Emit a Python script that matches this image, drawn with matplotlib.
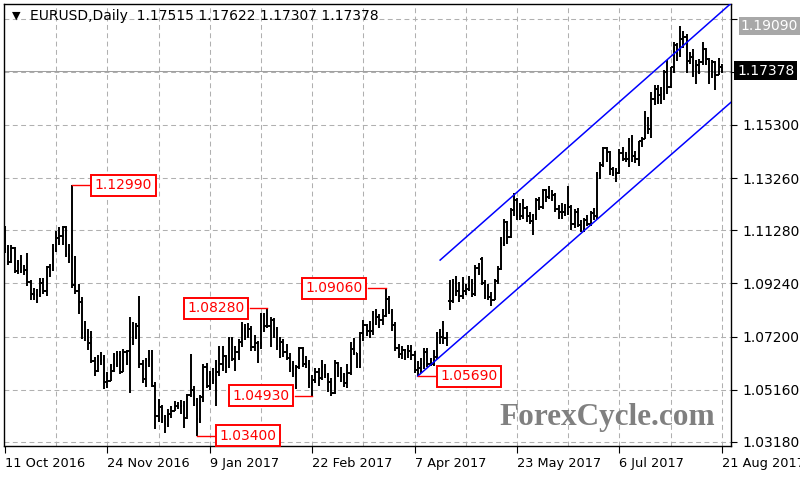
"""
EURUSD daily bar chart (MT4 style) with a rising channel and swing labels.
"""

import matplotlib
matplotlib.use("Agg")
import matplotlib.pyplot as plt
import pandas as pd
from matplotlib.collections import LineCollection

plt.rcParams['font.family'] = ['DejaVu Sans']
plt.rcParams['lines.scale_dashes'] = False

first_day = '2016-10-11'
last_day = '2017-08-21'

opens = [
    1.1141, 1.1055, 1.1005, 1.1058, 1.0972, 1.0999, 1.0972, 1.0974, 1.0928, 1.0882,
    1.0880, 1.0881, 1.0924, 1.0896, 1.0985, 1.0979, 1.1057, 1.1097, 1.1104, 1.1139,
    1.1036, 1.1027, 1.0919, 1.0896, 1.0852, 1.0733, 1.0719, 1.0697, 1.0627, 1.0588,
    1.0628, 1.0632, 1.0548, 1.0552, 1.0589, 1.0617, 1.0650, 1.0585, 1.0662, 1.0664,
    1.0737, 1.0718, 1.0759, 1.0616, 1.0557, 1.0632, 1.0633, 1.0532, 1.0415, 1.0449,
    1.0398, 1.0387, 1.0425, 1.0437, 1.0454, 1.0455, 1.0456, 1.0410, 1.0495, 1.0517,
    1.0460, 1.0405, 1.0488, 1.0604, 1.0532, 1.0576, 1.0555, 1.0584, 1.0614, 1.0646,
    1.0604, 1.0710, 1.0633, 1.0660, 1.0698, 1.0749, 1.0723, 1.0749, 1.0680, 1.0694,
    1.0697, 1.0800, 1.0762, 1.0761, 1.0784, 1.0750, 1.0685, 1.0700, 1.0663, 1.0640,
    1.0600, 1.0576, 1.0604, 1.0678, 1.0617, 1.0615, 1.0541, 1.0555, 1.0585, 1.0562,
    1.0604, 1.0574, 1.0545, 1.0505, 1.0620, 1.0580, 1.0566, 1.0543, 1.0581, 1.0672,
    1.0656, 1.0604, 1.0733, 1.0766, 1.0740, 1.0741, 1.0808, 1.0797, 1.0782, 1.0798,
    1.0865, 1.0815, 1.0765, 1.0677, 1.0652, 1.0667, 1.0669, 1.0664, 1.0648, 1.0592,
    1.0600, 1.0614, 1.0662, 1.0615, 1.0617, 1.0643, 1.0733, 1.0718, 1.0714, 1.0855,
    1.0856, 1.0931, 1.0893, 1.0874, 1.0894, 1.0901, 1.0929, 1.0885, 1.0984, 1.1016,
    1.0925, 1.0875, 1.0873, 1.0862, 1.0933, 1.0980, 1.1077, 1.1159, 1.1101, 1.1206,
    1.1243, 1.1183, 1.1182, 1.1212, 1.1182, 1.1164, 1.1185, 1.1242, 1.1216, 1.1280,
    1.1254, 1.1279, 1.1262, 1.1210, 1.1196, 1.1197, 1.1211, 1.1217, 1.1151, 1.1198,
    1.1149, 1.1131, 1.1166, 1.1151, 1.1194, 1.1181, 1.1337, 1.1377, 1.1442, 1.1425,
    1.1362, 1.1348, 1.1347, 1.1423, 1.1400, 1.1398, 1.1467, 1.1412, 1.1398, 1.1469,
    1.1478, 1.1558, 1.1513, 1.1630, 1.1668, 1.1643, 1.1649, 1.1734, 1.1677, 1.1750,
    1.1836, 1.1801, 1.1859, 1.1866, 1.1773, 1.1792, 1.1754, 1.1758, 1.1772, 1.1821,
    1.1781, 1.1735, 1.1770, 1.1723, 1.17515,
]
highs = [
    1.1145, 1.1070, 1.1070, 1.1062, 1.1012, 1.1033, 1.0996, 1.1040, 1.0938, 1.0905,
    1.0903, 1.0945, 1.0944, 1.0990, 1.0997, 1.1075, 1.1124, 1.1140, 1.1143, 1.1145,
    1.1073, 1.1299, 1.1029, 1.0921, 1.0873, 1.0780, 1.0750, 1.0740, 1.0644, 1.0650,
    1.0660, 1.0648, 1.0585, 1.0616, 1.0656, 1.0665, 1.0664, 1.0671, 1.0670, 1.0796,
    1.0775, 1.0773, 1.0874, 1.0630, 1.0640, 1.0669, 1.0668, 1.0547, 1.0480, 1.0459,
    1.0420, 1.0444, 1.0456, 1.0472, 1.0470, 1.0478, 1.0475, 1.0500, 1.0652, 1.0530,
    1.0485, 1.0495, 1.0615, 1.0620, 1.0590, 1.0601, 1.0630, 1.0685, 1.0685, 1.0650,
    1.0718, 1.0720, 1.0683, 1.0710, 1.0775, 1.0770, 1.0773, 1.0760, 1.0725, 1.0705,
    1.0810, 1.0811, 1.0828, 1.0796, 1.0790, 1.0756, 1.0720, 1.0710, 1.0690, 1.0656,
    1.0625, 1.0610, 1.0679, 1.0680, 1.0645, 1.0631, 1.0575, 1.0600, 1.0600, 1.0629,
    1.0615, 1.0579, 1.0560, 1.0630, 1.0623, 1.0604, 1.0582, 1.0614, 1.0700, 1.0714,
    1.0658, 1.0736, 1.0783, 1.0768, 1.0778, 1.0818, 1.0826, 1.0806, 1.0825, 1.0906,
    1.0875, 1.0825, 1.0775, 1.0692, 1.0685, 1.0673, 1.0688, 1.0687, 1.0665, 1.0625,
    1.0640, 1.0678, 1.0676, 1.0640, 1.0668, 1.0736, 1.0750, 1.0778, 1.0739, 1.0937,
    1.0940, 1.0951, 1.0930, 1.0950, 1.0920, 1.0951, 1.0940, 1.0993, 1.1000, 1.1023,
    1.0935, 1.0923, 1.0890, 1.0940, 1.0990, 1.1100, 1.1171, 1.1163, 1.1212, 1.1268,
    1.1250, 1.1230, 1.1248, 1.1219, 1.1198, 1.1190, 1.1250, 1.1255, 1.1285, 1.1285,
    1.1296, 1.1282, 1.1270, 1.1222, 1.1230, 1.1228, 1.1296, 1.1222, 1.1210, 1.1212,
    1.1166, 1.1173, 1.1186, 1.1202, 1.1214, 1.1349, 1.1387, 1.1445, 1.1446, 1.1430,
    1.1370, 1.1366, 1.1437, 1.1445, 1.1425, 1.1479, 1.1490, 1.1430, 1.1470, 1.1485,
    1.1583, 1.1562, 1.1658, 1.1683, 1.1684, 1.1675, 1.1740, 1.1777, 1.1753, 1.1846,
    1.1845, 1.1909, 1.1891, 1.1877, 1.1810, 1.1822, 1.1780, 1.1781, 1.1846, 1.1823,
    1.1787, 1.1780, 1.1776, 1.1788, 1.17622,
]
lows = [
    1.1040, 1.0994, 1.1000, 1.0965, 1.0960, 1.0965, 1.0955, 1.0915, 1.0860, 1.0860,
    1.0850, 1.0870, 1.0884, 1.0877, 1.0950, 1.0970, 1.1043, 1.1070, 1.1070, 1.1025,
    1.1002, 1.0906, 1.0882, 1.0805, 1.0710, 1.0705, 1.0667, 1.0621, 1.0568, 1.0586,
    1.0610, 1.0518, 1.0524, 1.0550, 1.0585, 1.0605, 1.0576, 1.0583, 1.0612, 1.0505,
    1.0688, 1.0710, 1.0601, 1.0544, 1.0527, 1.0602, 1.0526, 1.0366, 1.0395, 1.0388,
    1.0352, 1.0374, 1.0410, 1.0435, 1.0445, 1.0423, 1.0370, 1.0405, 1.0490, 1.0455,
    1.0340, 1.0388, 1.0470, 1.0523, 1.0515, 1.0540, 1.0453, 1.0569, 1.0590, 1.0580,
    1.0600, 1.0627, 1.0587, 1.0630, 1.0680, 1.0707, 1.0715, 1.0665, 1.0664, 1.0618,
    1.0673, 1.0738, 1.0752, 1.0680, 1.0713, 1.0670, 1.0640, 1.0642, 1.0630, 1.0585,
    1.0565, 1.0521, 1.0597, 1.0603, 1.0600, 1.0525, 1.0493, 1.0542, 1.0530, 1.0555,
    1.0560, 1.0510, 1.0494, 1.0500, 1.0567, 1.0545, 1.0526, 1.0524, 1.0575, 1.0650,
    1.0599, 1.0600, 1.0702, 1.0721, 1.0716, 1.0726, 1.0765, 1.0752, 1.0765, 1.0797,
    1.0806, 1.0740, 1.0665, 1.0640, 1.0635, 1.0630, 1.0640, 1.0630, 1.0581, 1.0569,
    1.0580, 1.0596, 1.0604, 1.0607, 1.0606, 1.0635, 1.0690, 1.0693, 1.0684, 1.0821,
    1.0850, 1.0874, 1.0851, 1.0865, 1.0880, 1.0893, 1.0872, 1.0875, 1.0955, 1.0916,
    1.0865, 1.0862, 1.0838, 1.0860, 1.0920, 1.0975, 1.1068, 1.1075, 1.1097, 1.1181,
    1.1165, 1.1165, 1.1170, 1.1160, 1.1150, 1.1109, 1.1165, 1.1205, 1.1209, 1.1235,
    1.1245, 1.1238, 1.1196, 1.1172, 1.1170, 1.1180, 1.1184, 1.1130, 1.1134, 1.1140,
    1.1120, 1.1119, 1.1142, 1.1145, 1.1165, 1.1170, 1.1323, 1.1368, 1.1390, 1.1340,
    1.1335, 1.1312, 1.1341, 1.1394, 1.1390, 1.1370, 1.1390, 1.1385, 1.1372, 1.1445,
    1.1475, 1.1495, 1.1479, 1.1605, 1.1612, 1.1612, 1.1625, 1.1650, 1.1670, 1.1730,
    1.1773, 1.1790, 1.1824, 1.1729, 1.1763, 1.1712, 1.1688, 1.1724, 1.1761, 1.1760,
    1.1688, 1.1710, 1.1662, 1.1720, 1.17307,
]
closes = [
    1.1055, 1.1005, 1.1058, 1.0972, 1.0999, 1.0972, 1.0974, 1.0928, 1.0882, 1.0880,
    1.0881, 1.0924, 1.0896, 1.0985, 1.0979, 1.1057, 1.1097, 1.1104, 1.1139, 1.1036,
    1.1027, 1.0919, 1.0896, 1.0852, 1.0733, 1.0719, 1.0697, 1.0627, 1.0588, 1.0628,
    1.0632, 1.0548, 1.0552, 1.0589, 1.0617, 1.0650, 1.0585, 1.0662, 1.0664, 1.0737,
    1.0718, 1.0759, 1.0616, 1.0557, 1.0632, 1.0633, 1.0532, 1.0415, 1.0449, 1.0398,
    1.0387, 1.0425, 1.0437, 1.0454, 1.0455, 1.0456, 1.0410, 1.0495, 1.0517, 1.0460,
    1.0405, 1.0488, 1.0604, 1.0532, 1.0576, 1.0555, 1.0584, 1.0614, 1.0646, 1.0604,
    1.0710, 1.0633, 1.0660, 1.0698, 1.0749, 1.0723, 1.0749, 1.0680, 1.0694, 1.0697,
    1.0800, 1.0762, 1.0761, 1.0784, 1.0750, 1.0685, 1.0700, 1.0663, 1.0640, 1.0600,
    1.0576, 1.0604, 1.0678, 1.0617, 1.0615, 1.0541, 1.0555, 1.0585, 1.0562, 1.0604,
    1.0574, 1.0545, 1.0505, 1.0620, 1.0580, 1.0566, 1.0543, 1.0581, 1.0672, 1.0656,
    1.0604, 1.0733, 1.0766, 1.0740, 1.0741, 1.0808, 1.0797, 1.0782, 1.0798, 1.0865,
    1.0815, 1.0765, 1.0677, 1.0652, 1.0667, 1.0669, 1.0664, 1.0648, 1.0592, 1.0600,
    1.0614, 1.0662, 1.0615, 1.0617, 1.0643, 1.0733, 1.0718, 1.0714, 1.0726, 1.0856,
    1.0931, 1.0893, 1.0874, 1.0894, 1.0901, 1.0929, 1.0885, 1.0984, 1.0998, 1.0925,
    1.0875, 1.0873, 1.0862, 1.0933, 1.0980, 1.1077, 1.1159, 1.1101, 1.1206, 1.1243,
    1.1183, 1.1182, 1.1212, 1.1182, 1.1164, 1.1185, 1.1242, 1.1216, 1.1280, 1.1254,
    1.1279, 1.1262, 1.1210, 1.1196, 1.1197, 1.1211, 1.1217, 1.1151, 1.1198, 1.1149,
    1.1131, 1.1166, 1.1151, 1.1194, 1.1181, 1.1337, 1.1377, 1.1442, 1.1425, 1.1362,
    1.1348, 1.1347, 1.1423, 1.1400, 1.1398, 1.1467, 1.1412, 1.1398, 1.1469, 1.1478,
    1.1558, 1.1513, 1.1630, 1.1668, 1.1643, 1.1649, 1.1734, 1.1677, 1.1750, 1.1836,
    1.1801, 1.1859, 1.1866, 1.1773, 1.1792, 1.1754, 1.1758, 1.1772, 1.1821, 1.1781,
    1.1735, 1.1770, 1.1723, 1.1761, 1.17378,
]

label_dates = ['2016-10-11', '2016-11-24', '2017-01-09', '2017-02-22',
               '2017-04-07', '2017-05-23', '2017-07-06', '2017-08-21']
label_texts = ['11 Oct 2016', '24 Nov 2016', '9 Jan 2017', '22 Feb 2017',
               '7 Apr 2017', '23 May 2017', '6 Jul 2017', '21 Aug 2017']
price_ticks = [1.03180, 1.05160, 1.07200, 1.09240, 1.11280,
               1.13260, 1.15300, 1.17340, 1.19340]
price_tick_labels = ['1.03180', '1.05160', '1.07200', '1.09240', '1.11280',
                     '1.13260', '1.15300', '', '']  # top two sit under the price boxes

# swing highs / lows marked on the chart
swing_dates = ['2016-11-09', '2017-01-03', '2017-02-02',
               '2017-02-22', '2017-03-27', '2017-04-10']
swing_prices = [1.12990, 1.03400, 1.08280, 1.04930, 1.09060, 1.05690]
swing_sides = ['right', 'right', 'left', 'left', 'left', 'right']

# rising channel, two anchor points per line
lower_dates = ['2017-04-10', '2017-08-21']
lower_prices = [1.0569, 1.1586]
upper_dates = ['2017-04-19', '2017-08-21']
upper_prices = [1.1013, 1.1964]

period_high = 1.19090
last_price = 1.17378

# 1. Figure, sized like the terminal screenshot
fig = plt.figure(figsize=(8, 4.8), dpi=100)
ax = fig.add_axes([4 / 800, 34 / 480, 727 / 800, 442 / 480])

dates = pd.bdate_range(first_day, last_day)
pos = {d.strftime('%Y-%m-%d'): i for i, d in enumerate(dates)}
n = len(dates)

ax.set_xlim(-0.3, 226.9)
ax.set_ylim(1.03015, 1.19930)

# 2. Grid: dashed lines, vertical every 16 bars, labels every 32
grid_kw = dict(color='#b0b0b0', linewidth=0.75, dashes=(3.5, 2.5), zorder=0)
for p in price_ticks:
    ax.axhline(p, **grid_kw)
for i in range(16, n + 16, 16):
    ax.axvline(i, **grid_kw)

ax.axhline(last_price, color='#a0a0a0', linewidth=0.75, zorder=1)

# 3. OHLC bars
segs = []
for i in range(n):
    segs.append([(i, lows[i]), (i, highs[i])])
    segs.append([(i - 0.45, opens[i]), (i, opens[i])])
    segs.append([(i, closes[i]), (i + 0.45, closes[i])])
ax.add_collection(LineCollection(segs, colors='black', linewidths=1.4, zorder=3))

# 4. Channel lines, extended to the right edge
for d, p in [(lower_dates, lower_prices), (upper_dates, upper_prices)]:
    x0, x1 = pos[d[0]], pos[d[1]]
    slope = (p[1] - p[0]) / (x1 - x0)
    x_end = 230
    ax.plot([x0, x_end], [p[0], p[0] + slope * (x_end - x0)],
            color='#0000ff', linewidth=1.1, zorder=4)

# 5. Swing labels, red boxes joined to the bar by a short line
gap = 5.5
for d, p, side in zip(swing_dates, swing_prices, swing_sides):
    x = pos[d]
    sign = 1 if side == 'right' else -1
    ax.plot([x, x + sign * gap], [p, p], color='red', linewidth=1.0, zorder=5)
    ax.text(x + sign * (gap + 1.6), p, f'{p:.5f}', color='red', fontsize=10,
            ha='left' if side == 'right' else 'right', va='center', zorder=6,
            bbox=dict(boxstyle='square,pad=0.25', facecolor='white',
                      edgecolor='red', linewidth=1.4))

# 6. Axes styling
for s in ax.spines.values():
    s.set_color('black')
    s.set_linewidth(1.0)

ax.yaxis.tick_right()
ax.set_yticks(price_ticks)
ax.set_yticklabels(price_tick_labels)
ax.tick_params(axis='y', length=4, width=0.8, pad=4, labelsize=10)

ax.set_xticks([pos[d] for d in label_dates])
ax.set_xticklabels(label_texts)
for lbl in ax.get_xticklabels():
    lbl.set_horizontalalignment('left')
ax.tick_params(axis='x', length=5, width=0.8, pad=3, labelsize=9.3)

# right hand price boxes
ytr = ax.get_yaxis_transform()
ax.text(1.0135, period_high, f'{period_high:.5f}', transform=ytr, color='white',
        fontsize=10, ha='left', va='center', clip_on=False, zorder=7,
        bbox=dict(boxstyle='square,pad=0.15', facecolor='#a8a8a8', edgecolor='none'))
ax.text(1.0085, last_price, f'{last_price:.5f}', transform=ytr, color='white',
        fontsize=10, ha='left', va='center', clip_on=False, zorder=7,
        bbox=dict(boxstyle='square,pad=0.2', facecolor='black', edgecolor='none'))

# header and watermark
ax.text(8 / 727, 1 - 12 / 442, '\u25bc', transform=ax.transAxes, fontsize=8,
        ha='left', va='center')
ax.text(26 / 727, 1 - 12 / 442, 'EURUSD,Daily  1.17515 1.17622 1.17307 1.17378',
        transform=ax.transAxes, fontsize=10, ha='left', va='center', color='black')
ax.text(0.83, 0.0475, 'ForexCycle.com', transform=ax.transAxes,
        family='Liberation Serif', fontweight='bold', fontsize=22.5,
        color='#808080', ha='center', va='baseline', zorder=2)

fig.savefig('out.png', dpi=100)
plt.close(fig)
